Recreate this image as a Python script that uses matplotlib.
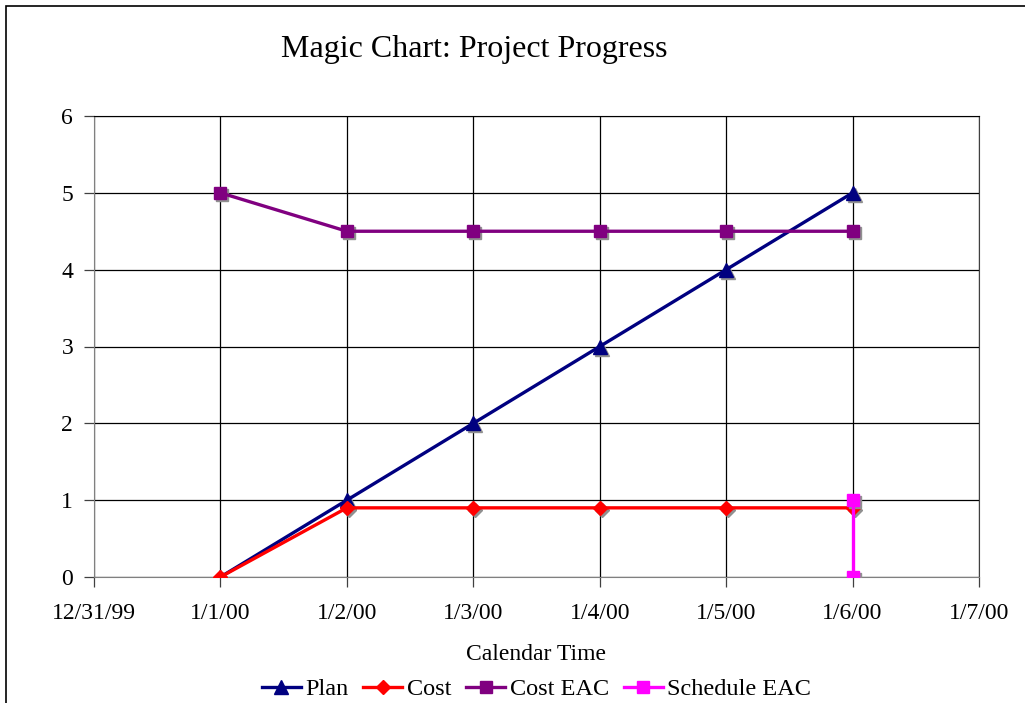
import datetime as dt
import matplotlib
matplotlib.use("Agg")
import matplotlib.pyplot as plt
import matplotlib.dates as mdates
import matplotlib.transforms as mtransforms
from matplotlib.patches import Rectangle

plt.rcParams['font.family'] = ['Liberation Serif', 'DejaVu Serif']

days = [dt.datetime(2000, 1, d) for d in range(1, 7)]
plan = [0, 1, 2, 3, 4, 5]
cost = [0, 0.9, 0.9, 0.9, 0.9, 0.9]
cost_eac = [5, 4.5, 4.5, 4.5, 4.5, 4.5]
sched_days = [dt.datetime(2000, 1, 6), dt.datetime(2000, 1, 6)]
sched_eac = [1, 0]

fig = plt.figure(figsize=(10.25, 7.03), dpi=100)
fig.patches.append(Rectangle((6/1025, -0.05), 1.2, 1 - 6/703 + 0.05, transform=fig.transFigure,
                             fill=False, edgecolor='black', linewidth=1.2))
ax = fig.add_axes([94/1025, 126/703, 885/1025, 461/703])

# marker shadows like the old spreadsheet look
shadow = ax.transData + mtransforms.ScaledTranslation(2/100, -2/100, fig.dpi_scale_trans)
series = [
    (days, plan, '#000080', '^', 9.5, 'Plan', 3),
    (days, cost, '#ff0000', 'D', 7.5, 'Cost', 4),
    (days, cost_eac, '#800080', 's', 8, 'Cost EAC', 3),
    (sched_days, sched_eac, '#ff00ff', 's', 8, 'Schedule EAC', 5),
]
for x, y, c, m, ms, lab, z in series:
    ax.plot(x, y, linestyle='none', marker=m, markersize=ms, color='#909090',
            transform=shadow, zorder=z - 0.5)
    ax.plot(x, y, color=c, marker=m, markersize=ms, linewidth=2.4, label=lab, zorder=z)

ax.set_xlim(dt.datetime(1999, 12, 31), dt.datetime(2000, 1, 7))
ax.set_ylim(0, 6)
ax.xaxis.set_major_locator(mdates.DayLocator())
ax.xaxis.set_major_formatter(plt.FuncFormatter(
    lambda v, p: '{d.month}/{d.day}/{d:%y}'.format(d=mdates.num2date(v))))
ax.set_yticks(range(0, 7))
ax.grid(True, color='black', linewidth=0.9)
ax.set_axisbelow(True)
for s in ['left', 'bottom']:
    ax.spines[s].set_color('#808080')
ax.spines['top'].set_color('black')
ax.spines['right'].set_color('#404040')
ax.tick_params(labelsize=17, length=7, width=0.9, color='#404040')
ax.tick_params(axis='x', pad=12)
ax.tick_params(axis='y', pad=8)
ax.set_xlabel('Calendar Time', fontsize=17, labelpad=14)
fig.text(474/1025, 1 - 49/703, 'Magic Chart: Project Progress', fontsize=23, ha='center', va='center')

ax.legend(loc='center', bbox_to_anchor=(0.5, (577 - 689) / 461), ncol=4, frameon=False,
          fontsize=17.5, handlelength=1.6, handletextpad=0.2, columnspacing=0.6, borderaxespad=0)

fig.savefig('out.png', dpi=100)
